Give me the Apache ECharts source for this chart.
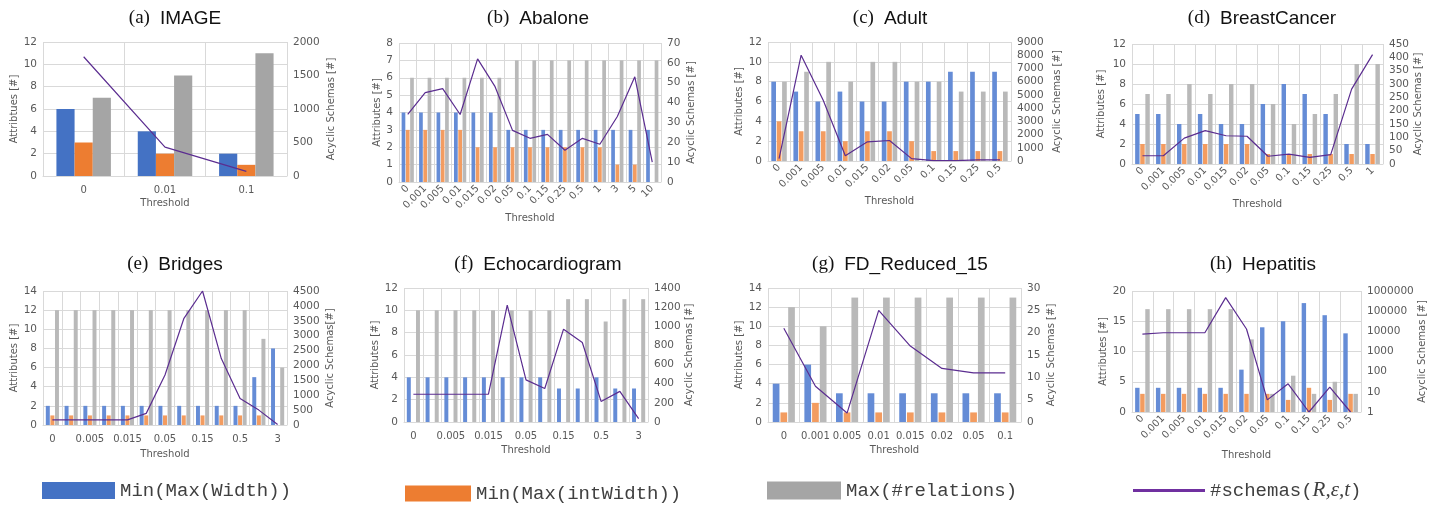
<!DOCTYPE html>
<html lang="en">
<head>
<meta charset="UTF-8">
<title>Attributes and acyclic schemas per threshold</title>
<script src="https://cdn.jsdelivr.net/npm/echarts@6/dist/echarts.min.js"></script>
<style>
    html, body { margin: 0; padding: 0; background: #fff; }
    #main { width: 1443px; height: 505px; }
</style>
</head>
<body>
<!-- one canvas, eight grids -->
<div id="main"></div>
<script>
    // ---- data ----
    var imageCats = ['0', '0.01', '0.1'];
    var imageWidth = [6, 4, 2];
    var imageIntWidth = [3, 2, 1];
    var imageRelations = [7, 9, 11];
    var imageSchemas = [1780, 430, 70];

    var abaloneCats = ['0', '0.001', '0.005', '0.01', '0.015', '0.02', '0.05', '0.1', '0.15', '0.25', '0.5', '1', '3', '5', '10'];
    var abaloneWidth = [4, 4, 4, 4, 4, 4, 3, 3, 3, 3, 3, 3, 3, 3, 3];
    var abaloneIntWidth = [3, 3, 3, 3, 2, 2, 2, 2, 2, 2, 2, 2, 1, 1, 0];
    var abaloneRelations = [6, 6, 6, 6, 6, 6, 7, 7, 7, 7, 7, 7, 7, 7, 7];
    var abaloneSchemas = [34, 45, 47, 34, 62, 48, 26, 22, 24, 16, 22, 19, 33, 53, 10];

    var adultCats = ['0', '0.001', '0.005', '0.01', '0.015', '0.02', '0.05', '0.1', '0.15', '0.25', '0.5'];
    var adultWidth = [8, 7, 6, 7, 6, 6, 8, 8, 9, 9, 9];
    var adultIntWidth = [4, 3, 3, 2, 3, 3, 2, 1, 1, 1, 1];
    var adultRelations = [8, 9, 10, 8, 10, 10, 8, 8, 7, 7, 7];
    var adultSchemas = [180, 8000, 4600, 400, 1450, 1550, 180, 30, 30, 80, 80];

    var breastCats = ['0', '0.001', '0.005', '0.01', '0.015', '0.02', '0.05', '0.1', '0.15', '0.25', '0.5', '1'];
    var breastWidth = [5, 5, 4, 5, 4, 4, 6, 8, 7, 5, 2, 2];
    var breastIntWidth = [2, 2, 2, 2, 2, 2, 1, 1, 1, 1, 1, 1];
    var breastRelations = [7, 7, 8, 7, 8, 8, 6, 4, 5, 7, 10, 10];
    var breastSchemas = [31, 31, 97, 125, 106, 104, 29, 37, 25, 35, 281, 410];

    var bridgesCats = ['0', '0.001', '0.005', '0.01', '0.015', '0.02', '0.05', '0.1', '0.15', '0.25', '0.5', '1', '3'];
    var bridgesWidth = [2, 2, 2, 2, 2, 2, 2, 2, 2, 2, 2, 5, 8];
    var bridgesIntWidth = [1, 1, 1, 1, 1, 1, 1, 1, 1, 1, 1, 1, 0];
    var bridgesRelations = [12, 12, 12, 12, 12, 12, 12, 12, 12, 12, 12, 9, 6];
    var bridgesSchemas = [170, 170, 170, 170, 170, 390, 1680, 3570, 4500, 2230, 890, 500, 20];

    var echoCats = ['0', '0.001', '0.005', '0.01', '0.015', '0.02', '0.05', '0.1', '0.15', '0.25', '0.5', '1', '3'];
    var echoWidth = [4, 4, 4, 4, 4, 4, 4, 4, 3, 3, 4, 3, 3];
    var echoIntWidth = [0, 0, 0, 0, 0, 0, 0, 0, 0, 0, 0, 0, 0];
    var echoRelations = [10, 10, 10, 10, 10, 10, 10, 10, 11, 11, 9, 11, 11];
    var echoSchemas = [290, 290, 290, 290, 290, 1220, 440, 350, 970, 830, 215, 320, 35];

    var fdCats = ['0', '0.001', '0.005', '0.01', '0.015', '0.02', '0.05', '0.1'];
    var fdWidth = [4, 6, 3, 3, 3, 3, 3, 3];
    var fdIntWidth = [1, 2, 1, 1, 1, 1, 1, 1];
    var fdRelations = [12, 10, 13, 13, 13, 13, 13, 13];
    var fdSchemas = [21, 8, 2, 25, 17, 12, 11, 11];

    var hepCats = ['0', '0.001', '0.005', '0.01', '0.015', '0.02', '0.05', '0.1', '0.15', '0.25', '0.5'];
    var hepWidth = [4, 4, 4, 4, 4, 7, 14, 15, 18, 16, 13];
    var hepIntWidth = [3, 3, 3, 3, 3, 3, 3, 2, 4, 2, 3];
    var hepRelations = [17, 17, 17, 17, 17, 12, 3, 6, 3, 5, 3];
    var hepSchemas = [7300, 8500, 8500, 8500, 470000, 13000, 4, 25, 1, 17, 1];

    var seriesNames = ['Min(Max(Width))', 'Min(Max(intWidth))', 'Max(#relations)', '#schemas(R,ε,t)'];

    // ---- layout of the eight panels ----
    var panels = [
        { tag: '(a)', name: 'IMAGE', cats: imageCats, w: imageWidth, iw: imageIntWidth, rel: imageRelations, sch: imageSchemas,
          box: [43, 42, 244, 134], lMax: 12, lStep: 2, rMax: 2000, rStep: 500, lName: 'Attribtues [#]', rName: 'Acyclic Schemas [#]',
          lGap: 24, rGap: 39, xGap: 22, rotate: 0, every: 0, tx: 170, ty: 4, strong: true },
        { tag: '(b)', name: 'Abalone', cats: abaloneCats, w: abaloneWidth, iw: abaloneIntWidth, rel: abaloneRelations, sch: abaloneSchemas,
          box: [399, 43, 262, 139], lMax: 8, lStep: 1, rMax: 70, rStep: 10, lName: 'Attributes [#]', rName: 'Acyclic Schemas [#]',
          lGap: 15, rGap: 25, xGap: 17, rotate: 45, every: 0, tx: 533, ty: 4 },
        { tag: '(c)', name: 'Adult', cats: adultCats, w: adultWidth, iw: adultIntWidth, rel: adultRelations, sch: adultSchemas,
          box: [768, 42, 243, 119], lMax: 12, lStep: 2, rMax: 9000, rStep: 1000, lName: 'Attributes [#]', rName: 'Acyclic Schemas [#]',
          lGap: 24, rGap: 41, xGap: 35, rotate: 45, every: 0, tx: 885, ty: 4 },
        { tag: '(d)', name: 'BreastCancer', cats: breastCats, w: breastWidth, iw: breastIntWidth, rel: breastRelations, sch: breastSchemas,
          box: [1132, 44, 251, 120], lMax: 12, lStep: 2, rMax: 450, rStep: 50, lName: 'Attributes [#]', rName: 'Acyclic Schemas [#]',
          lGap: 26, rGap: 30, xGap: 35, rotate: 45, every: 0, tx: 1257, ty: 4 },
        { tag: '(e)', name: 'Bridges', cats: bridgesCats, w: bridgesWidth, iw: bridgesIntWidth, rel: bridgesRelations, sch: bridgesSchemas,
          box: [43, 291, 244, 134], lMax: 14, lStep: 2, rMax: 4500, rStep: 500, lName: 'Attributes [#]', rName: 'Acyclic Schemas[#]',
          lGap: 24, rGap: 38, xGap: 24, rotate: 0, every: 1, tx: 170, ty: 250 },
        { tag: '(f)', name: 'Echocardiogram', cats: echoCats, w: echoWidth, iw: echoIntWidth, rel: echoRelations, sch: echoSchemas,
          box: [404, 288, 244, 134], lMax: 12, lStep: 2, rMax: 1400, rStep: 200, lName: 'Attributes [#]', rName: 'Acyclic Schemas [#]',
          lGap: 22, rGap: 36, xGap: 23, rotate: 0, every: 1, tx: 533, ty: 250 },
        { tag: '(g)', name: 'FD_Reduced_15', cats: fdCats, w: fdWidth, iw: fdIntWidth, rel: fdRelations, sch: fdSchemas,
          box: [768, 288, 253, 134], lMax: 14, lStep: 2, rMax: 30, rStep: 5, lName: 'Attributes [#]', rName: 'Acyclic Schemas [#]',
          lGap: 24, rGap: 25, xGap: 23, rotate: 0, every: 0, tx: 895, ty: 250 },
        { tag: '(h)', name: 'Hepatitis', cats: hepCats, w: hepWidth, iw: hepIntWidth, rel: hepRelations, sch: hepSchemas,
          box: [1132, 291, 229, 121], lMax: 20, lStep: 5, rLog: true, lName: 'Attributes [#]', rName: 'Acyclic Schemas [#]',
          lGap: 24, rGap: 52, xGap: 38, rotate: 45, every: 0, tx: 1258, ty: 250 }
    ];

    var strongColors = ['#4472c4', '#ed7d31', '#a5a5a5'];
    var softColors = ['#658cd6', '#f39c60', '#b9b9b9'];
    var lineColor = '#5b2d90';
    var gridLine = '#d9d9d9';
    var labelColor = '#595959';
    var tickFont = 'DejaVu Sans';

    var option = {
        animation: false,
        backgroundColor: '#fff',
        title: [],
        grid: [],
        xAxis: [],
        yAxis: [],
        series: [],
        legend: [
            { data: [seriesNames[0]], left: 37, top: 476, itemWidth: 73, itemHeight: 17, icon: 'rect' },
            { data: [seriesNames[1]], left: 400, top: 479, itemWidth: 66, itemHeight: 16, icon: 'rect' },
            { data: [seriesNames[2]], left: 762, top: 476, itemWidth: 74, itemHeight: 18, icon: 'rect' },
            {
                data: [seriesNames[3]], left: 1128, top: 475, itemWidth: 72, itemHeight: 3, icon: 'rect',
                formatter: function () { return '{m|#schemas(}{i|R,ε,t}{m|)}'; }
            }
        ]
    };

    // shared legend text look
    option.legend.forEach(function (lg) {
        lg.itemGap = 5;
        lg.selectedMode = false;
        lg.textStyle = {
            color: '#404040',
            fontFamily: 'Liberation Mono',
            fontSize: 19,
            rich: {
                m: { fontFamily: 'Liberation Mono', fontSize: 19, color: '#404040' },
                i: { fontFamily: 'Liberation Serif', fontStyle: 'italic', fontSize: 21, color: '#404040' }
            }
        };
    });

    panels.forEach(function (p, i) {
        var cols = p.strong ? strongColors : softColors;

        option.title.push({
            text: '{p|' + p.tag + '}  {n|' + p.name + '}',
            left: p.tx,
            top: p.ty,
            textAlign: 'center',
            textStyle: {
                fontWeight: 'normal',
                rich: {
                    p: { fontFamily: 'Liberation Serif', fontSize: 19, fontWeight: 'normal', color: '#111' },
                    n: { fontFamily: 'Liberation Sans', fontSize: 19, fontWeight: 'normal', color: '#111' }
                }
            }
        });

        option.grid.push({
            left: p.box[0], top: p.box[1], width: p.box[2], height: p.box[3],
            containLabel: false
        });

        option.xAxis.push({
            type: 'category',
            gridIndex: i,
            data: p.cats,
            name: 'Threshold',
            nameLocation: 'middle',
            nameGap: p.xGap,
            nameTextStyle: { color: labelColor, fontFamily: tickFont, fontSize: 10 },
            axisLine: { lineStyle: { color: gridLine } },
            axisTick: { show: false },
            axisLabel: {
                interval: p.every,
                rotate: p.rotate,
                margin: p.rotate ? 5 : 9,
                color: labelColor,
                fontFamily: tickFont,
                fontSize: 10
            },
            splitLine: { show: true, interval: 0, lineStyle: { color: gridLine } }
        });

        // left axis: attribute counts
        option.yAxis.push({
            type: 'value',
            gridIndex: i,
            min: 0,
            max: p.lMax,
            interval: p.lStep,
            name: p.lName,
            nameLocation: 'middle',
            nameRotate: 90,
            nameGap: p.lGap,
            nameTextStyle: { color: labelColor, fontFamily: tickFont, fontSize: 10 },
            axisLine: { show: false },
            axisTick: { show: false },
            axisLabel: { color: labelColor, fontFamily: tickFont, fontSize: 10.5, margin: 6 },
            splitLine: { show: true, lineStyle: { color: gridLine } }
        });

        // right axis: number of acyclic schemas
        var right = {
            gridIndex: i,
            position: 'right',
            name: p.rName,
            nameLocation: 'middle',
            nameRotate: 90,
            nameGap: p.rGap,
            nameTextStyle: { color: labelColor, fontFamily: tickFont, fontSize: 10 },
            axisLine: { show: false },
            axisTick: { show: false },
            axisLabel: {
                color: labelColor, fontFamily: tickFont, fontSize: 10.5, margin: 6,
                formatter: function (v) { return String(Math.round(v)); }
            },
            splitLine: { show: false }
        };
        if (p.rLog) {
            right.type = 'log';
            right.logBase = 10;
            right.min = 1;
            right.max = 1000000;
        } else {
            right.type = 'value';
            right.min = 0;
            right.max = p.rMax;
            right.interval = p.rStep;
        }
        option.yAxis.push(right);

        var barData = [p.w, p.iw, p.rel];
        for (var k = 0; k < 3; k++) {
            option.series.push({
                name: seriesNames[k],
                type: 'bar',
                xAxisIndex: i,
                yAxisIndex: 2 * i,
                data: barData[k],
                barGap: p.strong ? '0%' : '15%',
                barCategoryGap: p.strong ? '33%' : '30%',
                itemStyle: { color: cols[k] }
            });
        }
        option.series.push({
            name: seriesNames[3],
            type: 'line',
            xAxisIndex: i,
            yAxisIndex: 2 * i + 1,
            data: p.sch,
            symbol: 'none',
            lineStyle: { color: lineColor, width: 1.2 },
            itemStyle: { color: '#7030a0' },
            z: 5
        });
    });

    var chart = echarts.init(document.getElementById('main'));
    chart.setOption(option);
</script>
</body>
</html>
